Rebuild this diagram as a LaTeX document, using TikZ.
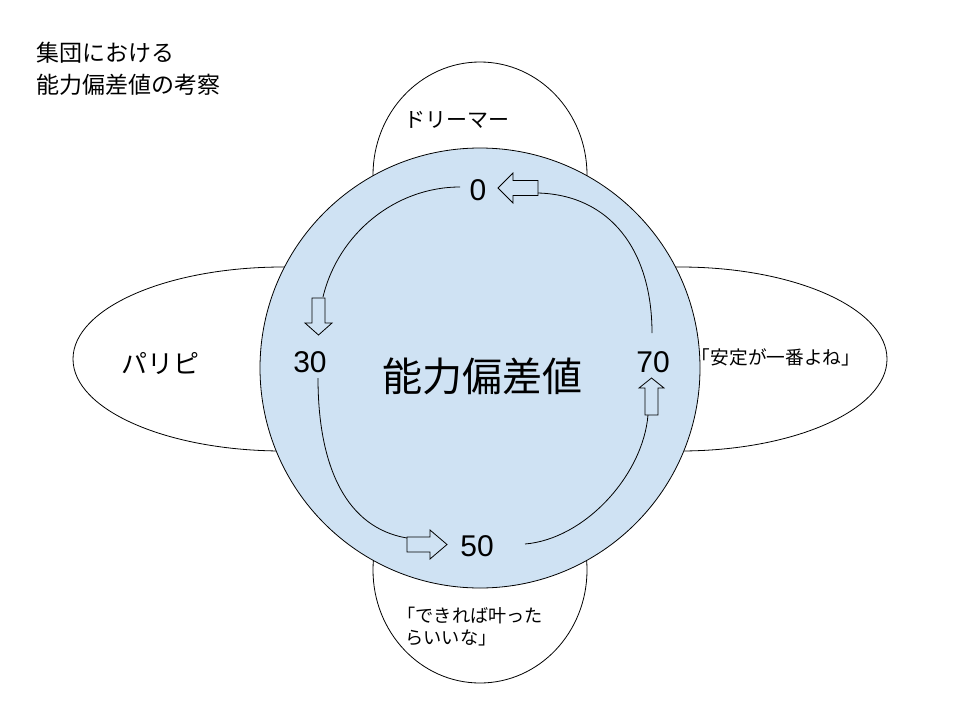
\documentclass[tikz,border=0pt]{standalone}
\usepackage{fontspec}
\setmainfont{Liberation Sans}
\newfontfamily\jp{Noto Sans CJK JP}
\usetikzlibrary{shapes.geometric}
\definecolor{circblue}{HTML}{CFE2F3}
\begin{document}
\begin{tikzpicture}[x=1pt,y=-1pt,line width=0.8pt,
  bubble/.style={ellipse,draw=black,fill=white,inner sep=0pt},
  bigcirc/.style={circle,draw=black,fill=circblue,inner sep=0pt,minimum size=440pt},
  num/.style={inner sep=0pt,font=\fontsize{30}{34}\selectfont},
  jtext/.style={inner sep=0pt},
  arc/.style={draw=black,line width=0.8pt},
  barrow/.style={draw=black,line width=0.8pt,line join=miter}]
\useasboundingbox (0,0) rectangle (960,720);

% outer bubbles
\node[bubble,minimum width=420pt,minimum height=184pt] (eleft) at (283,359) {};
\node[bubble,minimum width=414pt,minimum height=184pt] (eright) at (680,359) {};
\node[bubble,minimum width=214pt,minimum height=226pt] (etop) at (480,175) {};
\node[bubble,minimum width=214pt,minimum height=226pt] (ebot) at (480,570) {};

% central circle
\node[bigcirc] (c) at (480,368) {};

% title
\node[jtext,anchor=base west,font=\jp\fontsize{23}{27}\selectfont] (tl1) at (36,61.5) {集団における};
\node[jtext,anchor=base west,font=\jp\fontsize{23}{27}\selectfont] (tl2) at (36,93.5) {能力偏差値の考察};

% bubble texts
\node[jtext,font=\jp\fontsize{21}{25}\selectfont] (tdream) at (457,120) {ドリーマー};
\node[jtext,font=\jp\fontsize{26}{30}\selectfont] (tparipi) at (160,363) {パリピ};
\node[jtext,font=\jp\fontsize{18.67}{22}\selectfont] (tantei) at (776,357) {「安定が一番よね」};
\node[jtext,anchor=base west,font=\jp\fontsize{18.2}{22}\selectfont] (tdeki1) at (397,622) {「できれば叶った};
\node[jtext,anchor=base west,font=\jp\fontsize{18.2}{22}\selectfont] (tdeki2) at (405,644) {らいいな」};

% centre title
\node[jtext,font=\jp\fontsize{40}{46}\selectfont] (tcenter) at (482,376) {能力偏差値};

% numbers
\node[num] (n0) at (478,190) {0};
\node[num] (n30) at (310,362) {30};
\node[num] (n70) at (653,362) {70};
\node[num] (n50) at (477,546) {50};

% arc end points
\coordinate (s1) at (460,187);
\coordinate (e1) at (323,297);
\coordinate (s2) at (318,378);
\coordinate (e2) at (407,538);
\coordinate (s3) at (525,544);
\coordinate (e3) at (648,415);
\coordinate (s4) at (652,333);
\coordinate (e4) at (538,193);

\draw[arc] (s1) .. controls +(-65,0) and +(15,-63) .. (e1);
\draw[arc] (s2) .. controls +(0,90) and +(-60,-10) .. (e2);
\draw[arc] (s3) .. controls +(60,-5) and +(-5,60) .. (e3);
\draw[arc] (s4) .. controls +(0,-83) and +(72,2) .. (e4);

% block arrows (tips)
\coordinate (t0) at (498,188);
\coordinate (t30) at (318.5,335);
\coordinate (t50) at (447,544.5);
\coordinate (t70) at (651.5,378);

\draw[barrow] (t0) -- ++(15,-15) -- ++(0,7.5) -- ++(25,0) -- ++(0,15) -- ++(-25,0) -- ++(0,7.5) -- cycle;
\draw[barrow] (t30) -- ++(-13.5,-12) -- ++(7,0) -- ++(0,-25) -- ++(13,0) -- ++(0,25) -- ++(7,0) -- cycle;
\draw[barrow] (t50) -- ++(-17,-14.5) -- ++(0,7) -- ++(-23,0) -- ++(0,15) -- ++(23,0) -- ++(0,7) -- cycle;
\draw[barrow] (t70) -- ++(-12.5,10) -- ++(6,0) -- ++(0,27) -- ++(13,0) -- ++(0,-27) -- ++(6,0) -- cycle;
\end{tikzpicture}
\end{document}
